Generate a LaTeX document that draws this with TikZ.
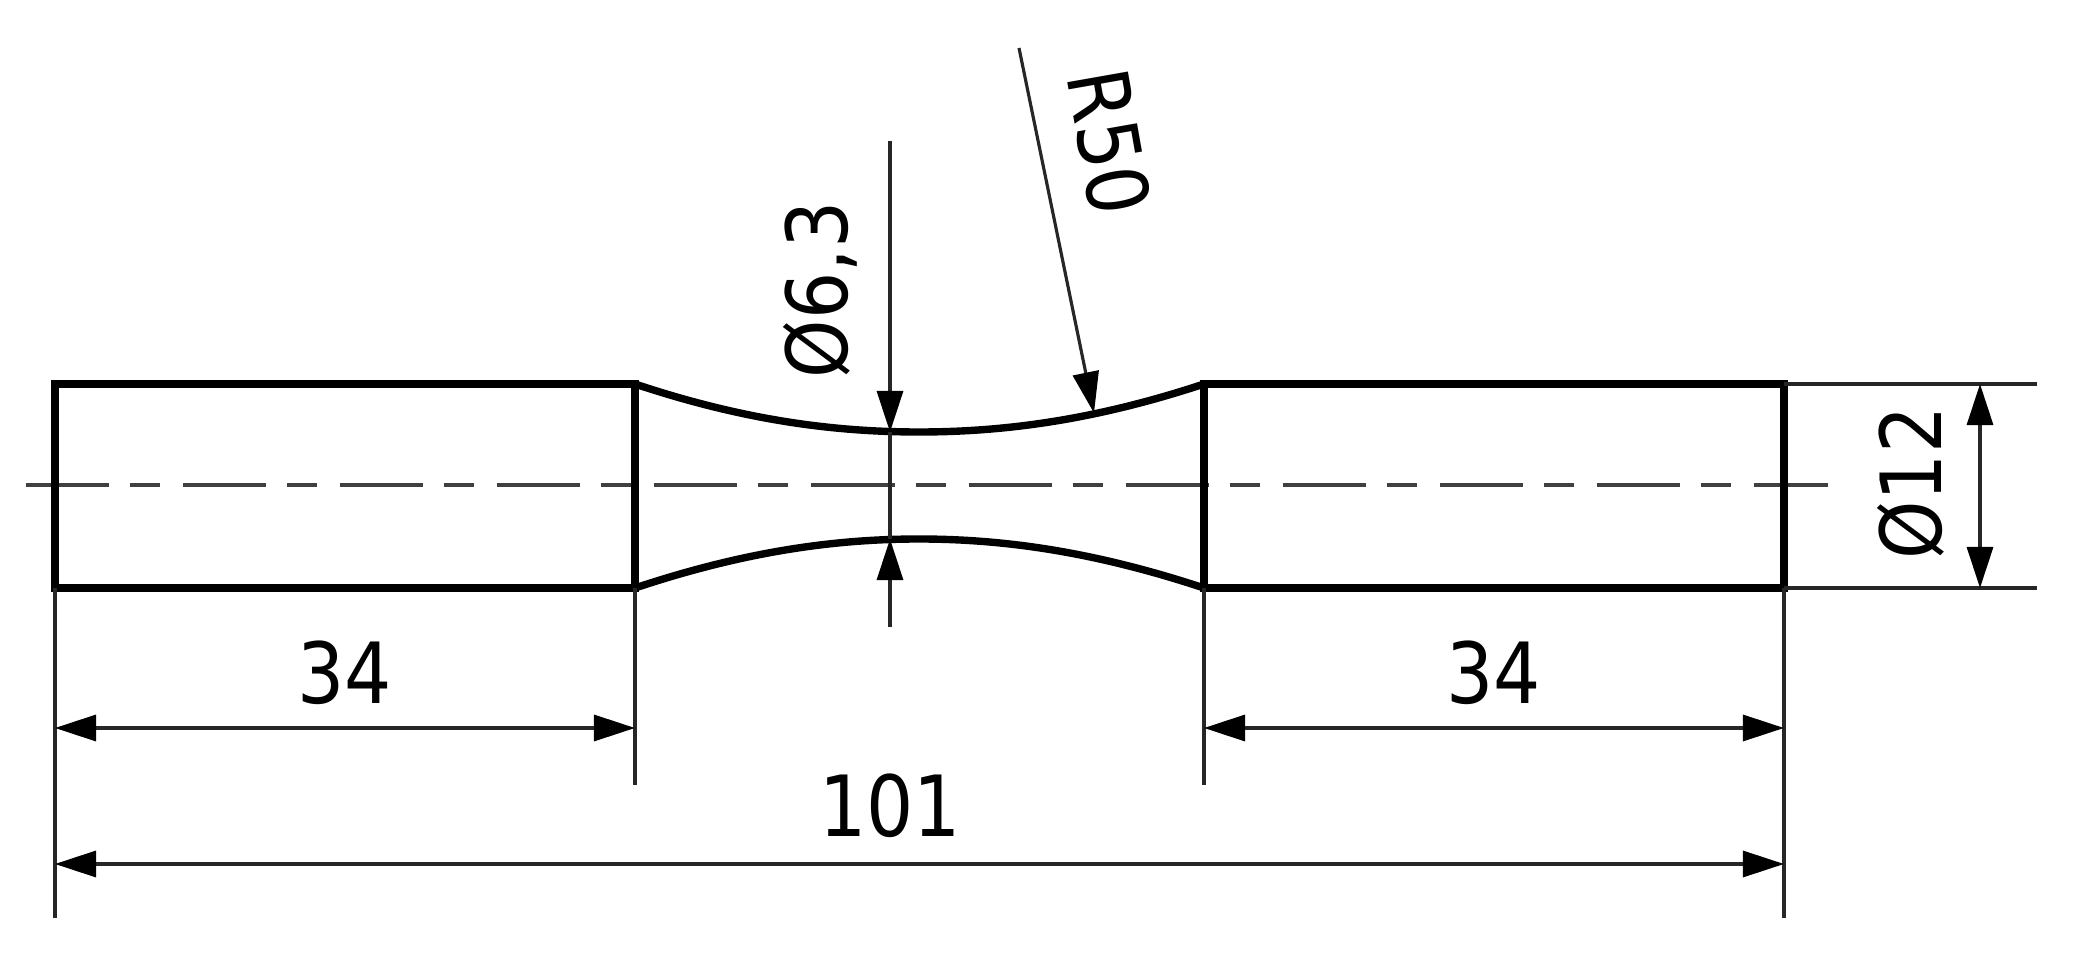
\documentclass[tikz,border=0pt]{standalone}
\usepackage{fontspec}
\setmainfont{DejaVu Sans}
\usetikzlibrary{arrows.meta}
\newcommand{\dimlabel}[1]{\scalebox{0.88}[1]{#1}}
\tikzset{
 thickline/.style={line width=2.1pt,line join=miter,black},
 thinline/.style={line width=0.9pt,black!85},
 centerline/.style={line width=1.1pt,black!75,dash pattern=on 0.83cm off 0.21cm on 0.30cm off 0.23cm},
 dimarrow/.style={thinline,-{Triangle[length=0.41cm,width=0.26cm,color=black]}},
 dimboth/.style={thinline,{Triangle[length=0.41cm,width=0.26cm,color=black]}-{Triangle[length=0.41cm,width=0.26cm,color=black]}},
 dimtext/.style={font=\fontsize{24}{28}\selectfont,inner sep=0pt,text=black}
}
\begin{document}
\begin{tikzpicture}[x=0.01cm,y=-0.01cm]
\useasboundingbox (0,0) rectangle (2084,955);
\coordinate (TL) at (55,384);
\coordinate (BL) at (55,588);
\coordinate (TM1) at (635,384);
\coordinate (BM1) at (635,588);
\coordinate (TM2) at (1204,384);
\coordinate (BM2) at (1204,588);
\coordinate (TR) at (1784,384);
\coordinate (BR) at (1784,588);
% centre line
\coordinate (CL) at (26,485);
\coordinate (CR) at (1828,485);
\draw[centerline] (CL) -- (CR);
% body
\draw[thickline] (TM1) -- (TL) -- (BL) -- (BM1) -- cycle;
\draw[thickline] (TM2) -- (TR) -- (BR) -- (BM2) -- cycle;
\draw[thickline] (TM1) .. controls (740,419) and (830,432) .. (919,432) .. controls (1008,432) and (1098,419) .. (TM2);
\draw[thickline] (BM1) .. controls (740,553) and (830,539) .. (919,539) .. controls (1008,539) and (1098,553) .. (BM2);
% extension lines
\coordinate (LE) at (55,918);
\coordinate (RE) at (1784,918);
\coordinate (M1E) at (635,785);
\coordinate (M2E) at (1204,785);
\coordinate (TE) at (2037,384);
\coordinate (BE) at (2037,588);
\draw[thinline] (BL) -- (LE);
\draw[thinline] (BR) -- (RE);
\draw[thinline] (BM1) -- (M1E);
\draw[thinline] (BM2) -- (M2E);
\draw[thinline] (TR) -- (TE);
\draw[thinline] (BR) -- (BE);
% horizontal dimensions
\coordinate (D1a) at (55,728);
\coordinate (D1b) at (635,728);
\coordinate (D2a) at (1204,728);
\coordinate (D2b) at (1784,728);
\coordinate (D3a) at (55,864);
\coordinate (D3b) at (1784,864);
\draw[dimboth] (D1a) -- (D1b);
\draw[dimboth] (D2a) -- (D2b);
\draw[dimboth] (D3a) -- (D3b);
\node[dimtext] (t34a) at (345,673) {\dimlabel{34}};
\node[dimtext] (t34b) at (1494,673) {\dimlabel{34}};
\node[dimtext] (t101) at (890,806) {\dimlabel{101}};
% diameter 12
\coordinate (P1) at (1980,384);
\coordinate (P2) at (1980,588);
\draw[dimboth] (P1) -- (P2);
\node[dimtext,rotate=90] (t12) at (1911,483) {\dimlabel{Ø12}};
% diameter 6,3
\coordinate (Ntop) at (890,141);
\coordinate (Na) at (890,432);
\coordinate (Nb) at (890,539);
\coordinate (Nbot) at (890,627);
\draw[dimarrow] (Ntop) -- (Na);
\draw[dimarrow] (Nbot) -- (Nb);
\draw[thinline] (Na) -- (Nb);
\node[dimtext,rotate=90] (t63) at (820,290) {\dimlabel{Ø6,3}};
% R50
\coordinate (Rs) at (1019,48);
\coordinate (Re) at (1094,413);
\draw[dimarrow] (Rs) -- (Re);
\node[dimtext,rotate=-80] (tR) at (1109,142) {\dimlabel{R50}};
\end{tikzpicture}
\end{document}
